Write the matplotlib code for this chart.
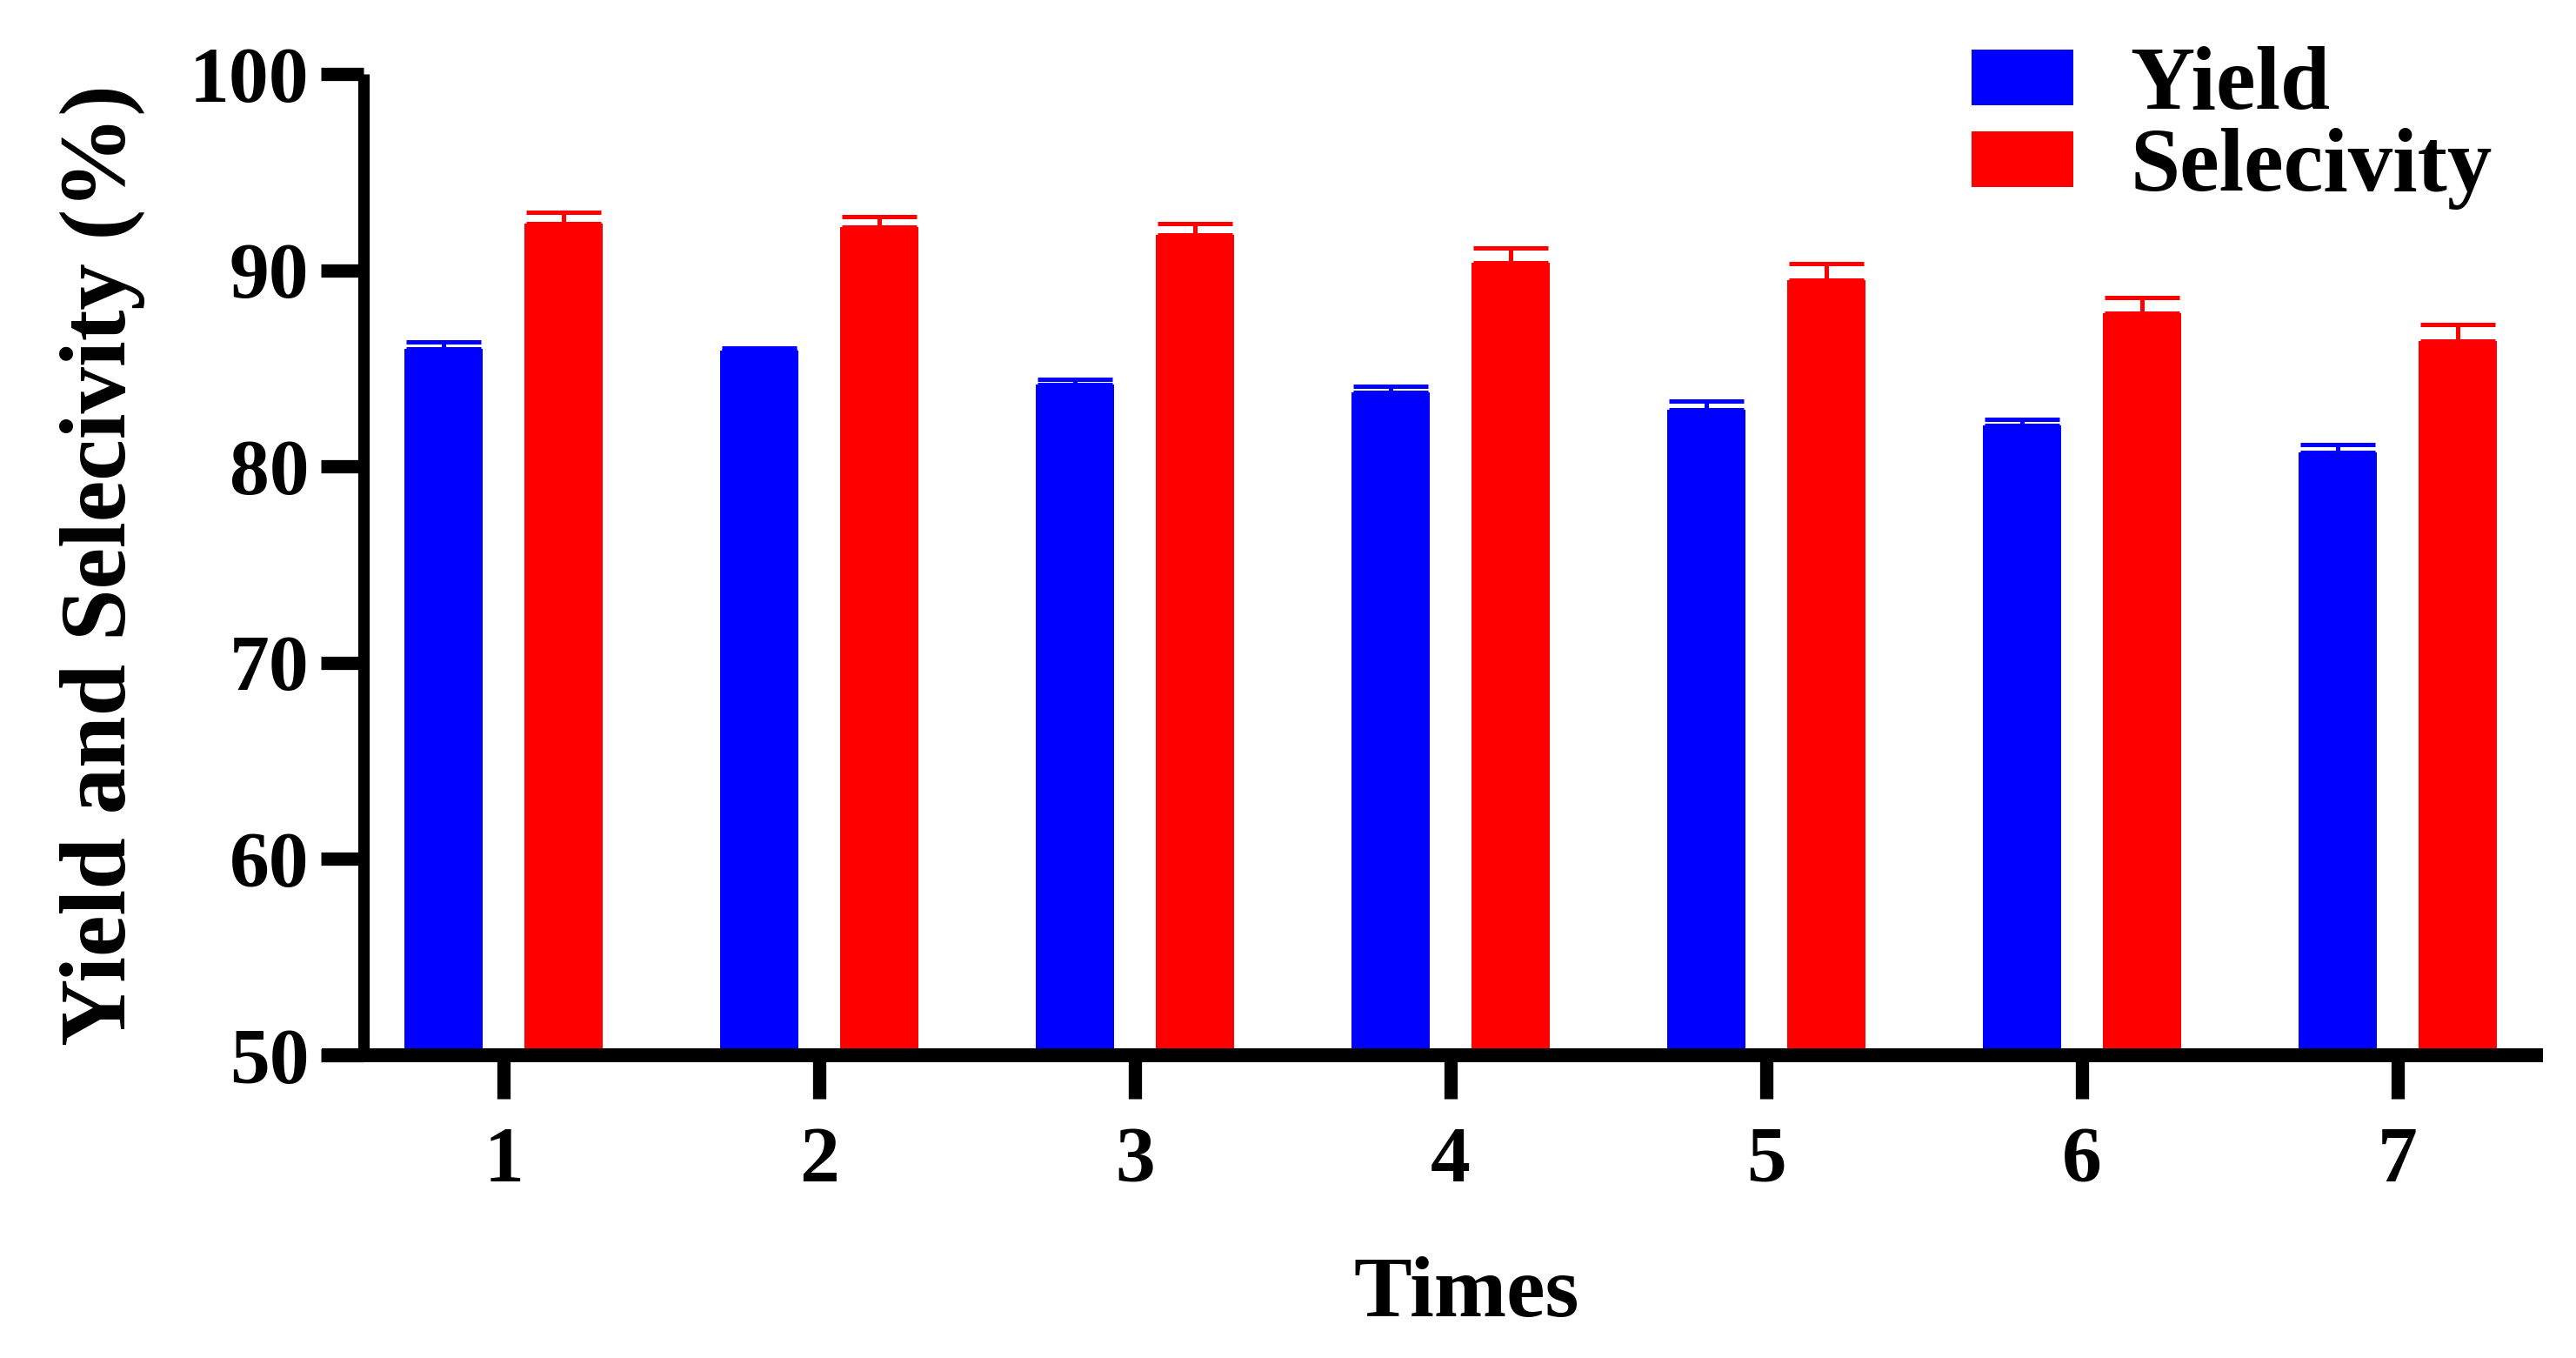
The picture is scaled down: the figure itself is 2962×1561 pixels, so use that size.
import matplotlib
matplotlib.use('Agg')
import matplotlib.pyplot as plt
import numpy as np

plt.rcParams['font.family'] = ['Liberation Serif', 'DejaVu Serif']
plt.rcParams['font.weight'] = 'bold'

# data
times = [1, 2, 3, 4, 5, 6, 7]
yield_ = [86.0, 85.9, 84.2, 83.8, 82.9, 82.1, 80.7]
yield_err = [0.35, 0.15, 0.25, 0.3, 0.45, 0.3, 0.4]
select = [92.4, 92.2, 91.8, 90.4, 89.5, 87.8, 86.4]
select_err = [0.55, 0.55, 0.6, 0.75, 0.85, 0.8, 0.85]

x = np.array(times)
w = 0.248
off = 0.19

fig = plt.figure(figsize=(29.62, 15.61), dpi=100)
ax = fig.add_axes([0.1411, 0.2229, 0.8461, 0.7226])

ekw = dict(elinewidth=3.6, capthick=3.6, capsize=31)
b1 = ax.bar(x - off, yield_, w, color='#0000ff', label='Yield',
            yerr=[np.zeros(7), yield_err], error_kw=dict(ecolor='#0000ff', **ekw))
b2 = ax.bar(x + off, select, w, color='#ff0000', label='Selecivity',
            yerr=[np.zeros(7), select_err], error_kw=dict(ecolor='#ff0000', **ekw))

ax.set_xlim(0.556, 7.46)
ax.set_ylim(50, 100)
ax.set_yticks([50, 60, 70, 80, 90, 100])
ax.set_xticks(times)

for s in ['top', 'right']:
    ax.spines[s].set_visible(False)
ax.spines['left'].set_linewidth(9.5)
ax.spines['bottom'].set_linewidth(11.5)
ax.spines['left'].set_capstyle('butt')
ax.spines['bottom'].set_capstyle('butt')
# x axis runs on under the y ticks
ax.plot([-0.019, 0], [0, 0], transform=ax.transAxes, color='black',
        linewidth=11.5, clip_on=False, solid_capstyle='butt')

ax.tick_params(axis='y', length=35, width=11, pad=10, labelsize=66)
ax.tick_params(axis='x', length=36, width=11, pad=23, labelsize=66)

ax.set_ylabel('Yield and Selecivity (%)', fontsize=77, fontweight='bold')
ax.yaxis.set_label_coords(-0.100, 0.5)
ax.set_xlabel('Times', fontsize=72, fontweight='bold')
ax.xaxis.set_label_coords(0.506, -0.205)
ax.xaxis.label.set_va('top')

ax.legend(handles=[b1, b2], loc='upper left', bbox_to_anchor=(0.741, 1.012),
          bbox_transform=fig.transFigure, frameon=False, fontsize=74,
          handlelength=1.14, handleheight=0.58, handletextpad=0.64,
          labelspacing=0.0, borderpad=0.2)

fig.savefig('out.png', dpi=100)
